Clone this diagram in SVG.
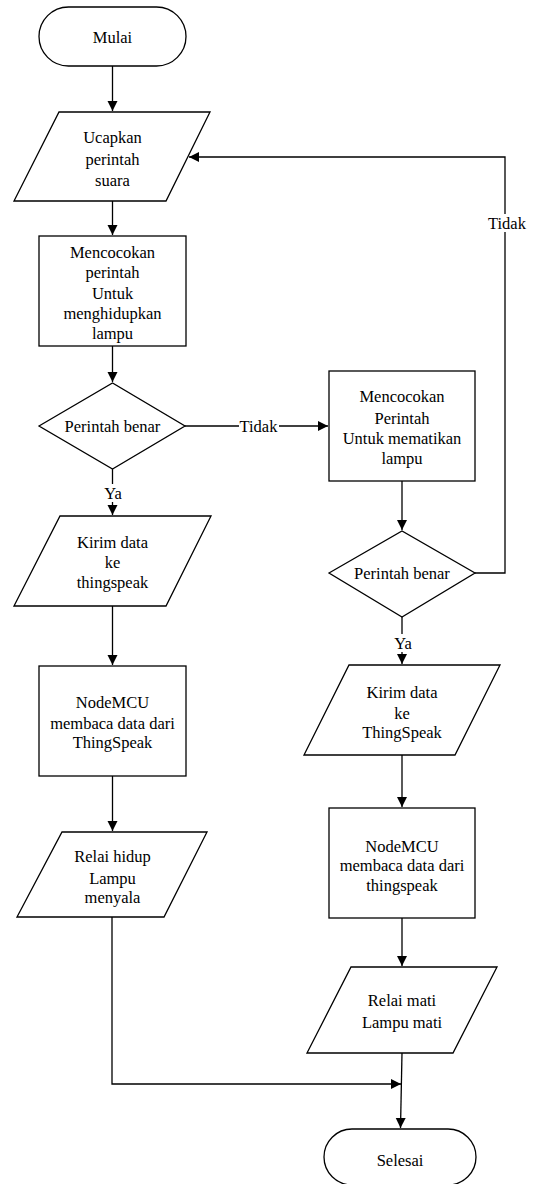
<svg xmlns="http://www.w3.org/2000/svg" width="536" height="1184" viewBox="0 0 536 1184">
<style>
.s{fill:#fff;stroke:#000;stroke-width:1.3}
.c{fill:none;stroke:#000;stroke-width:1.3}
.t{font-family:"Times New Roman",Times,"Liberation Serif",serif;font-size:16.5px;fill:#000;text-anchor:middle}
.bg{fill:#fff;stroke:none}
</style>
<defs>
<marker id="ah" markerUnits="userSpaceOnUse" markerWidth="11" markerHeight="11" refX="10" refY="5" orient="auto">
<path d="M0,0 L10,5 L0,10 z" fill="#000"/>
</marker>
</defs>
<rect width="536" height="1184" fill="#fff"/>
<g id="connectors">
<path class="c" d="M112.5,66 V111" marker-end="url(#ah)"/>
<path class="c" d="M112.5,201 V235" marker-end="url(#ah)"/>
<path class="c" d="M112.5,346 V382" marker-end="url(#ah)"/>
<path class="c" d="M185,426 H328" marker-end="url(#ah)"/>
<path class="c" d="M112.5,469 V515" marker-end="url(#ah)"/>
<path class="c" d="M112.5,606 V665" marker-end="url(#ah)"/>
<path class="c" d="M112.5,776 V831" marker-end="url(#ah)"/>
<path class="c" d="M402,481 V530" marker-end="url(#ah)"/>
<path class="c" d="M475,573 H505 V157 H189" marker-end="url(#ah)"/>
<path class="c" d="M402,617 V664" marker-end="url(#ah)"/>
<path class="c" d="M402,755 V807" marker-end="url(#ah)"/>
<path class="c" d="M402,918 V966" marker-end="url(#ah)"/>
<path class="c" d="M112,917 V1084 H401" marker-end="url(#ah)"/>
<path class="c" d="M402,1053 L400.5,1128" marker-end="url(#ah)"/>
<rect class="bg" x="239" y="417" width="40" height="18"/>
<text class="t" x="258.5" y="432">Tidak</text>
<rect class="bg" x="102" y="484" width="21" height="18"/>
<text class="t" x="113" y="499">Ya</text>
<rect class="bg" x="487" y="214" width="40" height="18"/>
<text class="t" x="507" y="229">Tidak</text>
<rect class="bg" x="392" y="634" width="21" height="18"/>
<text class="t" x="403" y="649">Ya</text>
</g>
<g id="mulai">
<rect class="s" x="39" y="7" width="147" height="59" rx="29.5"/>
<text class="t" x="112.5" y="42.5">Mulai</text>
</g>
<g id="ucapkan">
<polygon class="s" points="59,112 210,112 166,201 14,201"/>
<text class="t" x="112.5" y="143">Ucapkan</text>
<text class="t" x="112.5" y="165">perintah</text>
<text class="t" x="112.5" y="186">suara</text>
</g>
<g id="cocok-hidup">
<rect class="s" x="39" y="236" width="147" height="110"/>
<text class="t" x="112.5" y="258">Mencocokan</text>
<text class="t" x="112.5" y="278">perintah</text>
<text class="t" x="112.5" y="299">Untuk</text>
<text class="t" x="112.5" y="319">menghidupkan</text>
<text class="t" x="112.5" y="339">lampu</text>
</g>
<g id="cek-hidup">
<polygon class="s" points="39,426 112.5,383 185,426 112.5,469"/>
<text class="t" x="112.5" y="432">Perintah benar</text>
</g>
<g id="kirim-hidup">
<polygon class="s" points="60,516 211,516 166,606 14,606"/>
<text class="t" x="112.5" y="548">Kirim data</text>
<text class="t" x="112.5" y="568">ke</text>
<text class="t" x="112.5" y="588">thingspeak</text>
</g>
<g id="baca-hidup">
<rect class="s" x="39" y="666" width="147" height="110"/>
<text class="t" x="112.5" y="708">NodeMCU</text>
<text class="t" x="112.5" y="729">membaca data dari</text>
<text class="t" x="112.5" y="748">ThingSpeak</text>
</g>
<g id="relai-hidup">
<polygon class="s" points="62,832 207,832 164,917 17,917"/>
<text class="t" x="112.5" y="862">Relai hidup</text>
<text class="t" x="112.5" y="884">Lampu</text>
<text class="t" x="112.5" y="903">menyala</text>
</g>
<g id="cocok-mati">
<rect class="s" x="329" y="371" width="146" height="110"/>
<text class="t" x="402" y="402">Mencocokan</text>
<text class="t" x="402" y="424">Perintah</text>
<text class="t" x="402" y="444">Untuk mematikan</text>
<text class="t" x="402" y="464">lampu</text>
</g>
<g id="cek-mati">
<polygon class="s" points="329,573 402,531 475,573 402,617"/>
<text class="t" x="402" y="579">Perintah benar</text>
</g>
<g id="kirim-mati">
<polygon class="s" points="349,665 500,665 455,755 304,755"/>
<text class="t" x="402" y="698">Kirim data</text>
<text class="t" x="402" y="719">ke</text>
<text class="t" x="402" y="738">ThingSpeak</text>
</g>
<g id="baca-mati">
<rect class="s" x="329" y="808" width="146" height="110"/>
<text class="t" x="402" y="852">NodeMCU</text>
<text class="t" x="402" y="871">membaca data dari</text>
<text class="t" x="402" y="891">thingspeak</text>
</g>
<g id="relai-mati">
<polygon class="s" points="351,967 497,967 453,1053 307,1053"/>
<text class="t" x="402" y="1006">Relai mati</text>
<text class="t" x="402" y="1028">Lampu mati</text>
</g>
<g id="selesai">
<rect class="s" x="324" y="1129" width="152" height="56" rx="28"/>
<text class="t" x="400" y="1166">Selesai</text>
</g>
</svg>
